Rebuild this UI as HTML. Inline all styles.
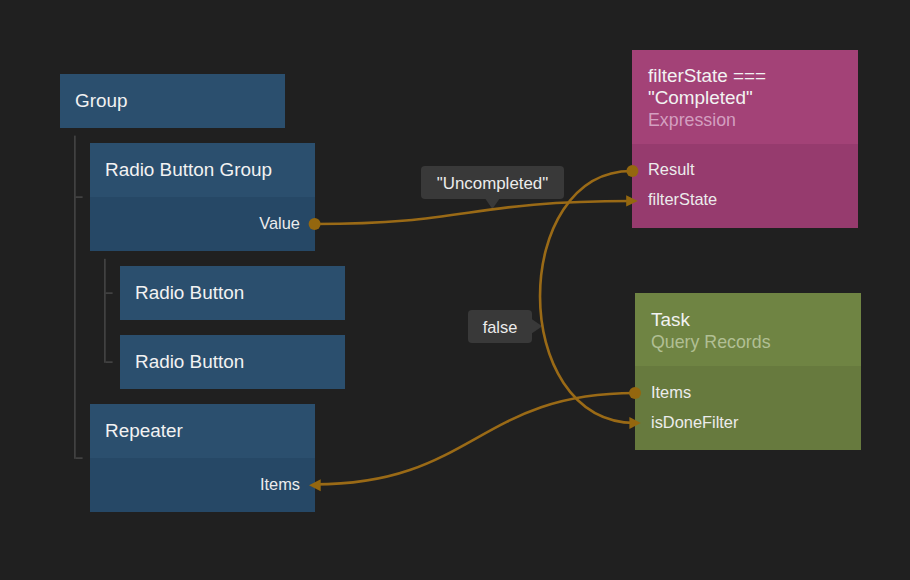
<!DOCTYPE html>
<html><head><meta charset="utf-8">
<style>
html,body{margin:0;padding:0;}
body{width:910px;height:580px;overflow:hidden;background:#202020;position:relative;font-family:"Liberation Sans",sans-serif;}
.n{position:absolute;}
.hd{position:absolute;left:0;top:0;right:0;}
.pt{position:absolute;left:0;right:0;bottom:0;}
.blue{background:#2b4f6e;}
.blue .pt{background:#264866;}
.mag{background:#a34277;}
.mag .pt{background:#963b6e;}
.grn{background:#6f8443;}
.grn .pt{background:#677a3e;}
.t{position:absolute;white-space:nowrap;color:#f2f2f2;line-height:20px;}
.tt{font-size:18.9px;}
.st{font-size:17.8px;}
.pl{font-size:16.4px;color:#ececec;}
.tipt{font-size:16.9px;}
.ln{position:absolute;background:#474747;}
.tip{position:absolute;background:#393939;border-radius:4px;}
</style></head><body>

<!-- tree lines -->
<svg style="position:absolute;left:0;top:0" width="910" height="580">
  <g fill="#4a4a4a">
    <rect x="74.2" y="135.6" width="1.4" height="323.2"/>
    <rect x="75.6" y="196.4" width="7" height="1.4"/>
    <rect x="75.6" y="457.4" width="7" height="1.4"/>
    <rect x="104.2" y="258.8" width="1.4" height="104"/>
    <rect x="105.6" y="292.4" width="7" height="1.4"/>
    <rect x="105.6" y="361.4" width="7" height="1.4"/>
  </g>
</svg>

<!-- Group -->
<div class="n blue" style="left:60px;top:74px;width:225px;height:54px;">
  <div class="t tt" style="left:15px;top:17px;">Group</div>
</div>
<!-- Radio Button Group -->
<div class="n blue" style="left:90px;top:143px;width:225px;height:108px;">
  <div class="t tt" style="left:15px;top:17px;">Radio Button Group</div>
  <div class="pt" style="height:54px;">
    <div class="t pl" style="right:15px;top:16px;">Value</div>
  </div>
</div>
<!-- Radio Button 1 -->
<div class="n blue" style="left:120px;top:266px;width:225px;height:54px;">
  <div class="t tt" style="left:15px;top:17px;">Radio Button</div>
</div>
<!-- Radio Button 2 -->
<div class="n blue" style="left:120px;top:335px;width:225px;height:54px;">
  <div class="t tt" style="left:15px;top:17px;">Radio Button</div>
</div>
<!-- Repeater -->
<div class="n blue" style="left:90px;top:404px;width:225px;height:108px;">
  <div class="t tt" style="left:15px;top:17px;">Repeater</div>
  <div class="pt" style="height:54px;">
    <div class="t pl" style="right:15px;top:16px;">Items</div>
  </div>
</div>

<!-- Expression -->
<div class="n mag" style="left:632px;top:50px;width:226px;height:178px;">
  <div class="t tt" style="left:16px;top:16px;">filterState ===</div>
  <div class="t tt" style="left:16px;top:38px;">"Completed"</div>
  <div class="t st" style="left:16px;top:60px;color:#d39fc0;">Expression</div>
  <div class="pt" style="height:84px;">
    <div class="t pl" style="left:16px;top:15px;">Result</div>
    <div class="t pl" style="left:16px;top:45px;">filterState</div>
  </div>
</div>

<!-- Task -->
<div class="n grn" style="left:635px;top:293px;width:226px;height:157px;">
  <div class="t tt" style="left:16px;top:17px;">Task</div>
  <div class="t st" style="left:16px;top:39px;color:#b1bf94;">Query Records</div>
  <div class="pt" style="height:84px;">
    <div class="t pl" style="left:16px;top:15.5px;">Items</div>
    <div class="t pl" style="left:16px;top:45.5px;">isDoneFilter</div>
  </div>
</div>

<!-- tooltips -->
<div class="tip" style="left:421px;top:166px;width:143px;height:33px;">
  <div class="t pl tipt" style="left:0;right:0;text-align:center;top:8px;">"Uncompleted"</div>
</div>
<svg style="position:absolute;left:0;top:0" width="910" height="580">
  <polygon points="485.5,199 499.3,199 492.4,209" fill="#393939"/>
  <polygon points="532,319.3 532,333.3 542.3,326.3" fill="#393939"/>
</svg>
<div class="tip" style="left:468px;top:310px;width:64px;height:33px;">
  <div class="t pl" style="left:0;right:0;text-align:center;top:7px;">false</div>
</div>

<!-- connections -->
<svg style="position:absolute;left:0;top:0" width="910" height="580">
  <g fill="none" stroke="#9a6a16" stroke-width="2.6">
    <path d="M314.6,224 C470.6,224 467,201 632.3,201"/>
    <path d="M632.4,171 C510.2,169.9 507.4,421.8 635,423"/>
    <path d="M635,393 C478,393 473.2,484.4 315,484.4"/>
  </g>
  <g fill="#94670f">
    <circle cx="314.6" cy="224" r="6"/>
    <circle cx="632.4" cy="171" r="6"/>
    <circle cx="635" cy="393" r="6"/>
    <polygon points="626.2,195.2 637.8,201 626.2,206.6"/>
    <polygon points="629.4,417 640.8,423 629.4,429"/>
    <polygon points="320.7,479.2 309,485.3 320.7,491.3"/>
  </g>
</svg>
</body></html>
